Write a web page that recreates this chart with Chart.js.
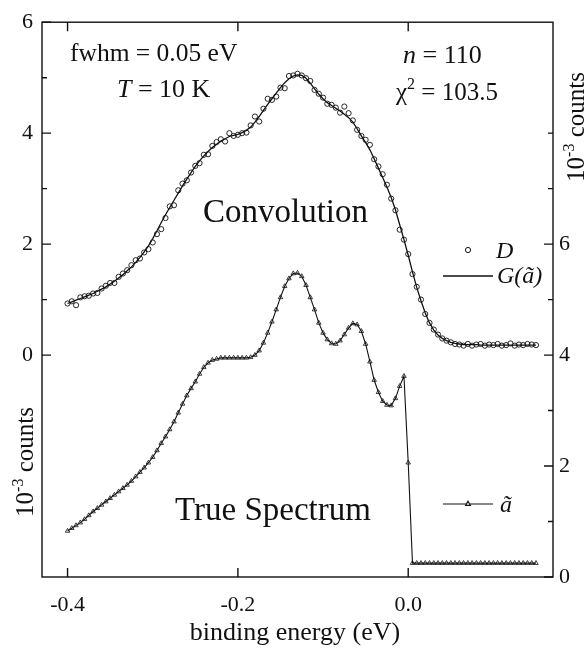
<!DOCTYPE html>
<html>
<head>
<meta charset="utf-8">
<script src="https://cdn.jsdelivr.net/npm/chart.js@4.4.1/dist/chart.umd.min.js"></script>
<style>
  html, body { margin: 0; padding: 0; background: #fff; }
</style>
</head>
<body>
<canvas id="chart" width="587" height="652"></canvas>
<script>
// binding energy (eV), one point every 5 meV
const energy = [
  -0.400, -0.395, -0.390, -0.385, -0.380, -0.375, -0.370, -0.365, -0.360, -0.355,
  -0.350, -0.345, -0.340, -0.335, -0.330, -0.325, -0.320, -0.315, -0.310, -0.305,
  -0.300, -0.295, -0.290, -0.285, -0.280, -0.275, -0.270, -0.265, -0.260, -0.255,
  -0.250, -0.245, -0.240, -0.235, -0.230, -0.225, -0.220, -0.215, -0.210, -0.205,
  -0.200, -0.195, -0.190, -0.185, -0.180, -0.175, -0.170, -0.165, -0.160, -0.155,
  -0.150, -0.145, -0.140, -0.135, -0.130, -0.125, -0.120, -0.115, -0.110, -0.105,
  -0.100, -0.095, -0.090, -0.085, -0.080, -0.075, -0.070, -0.065, -0.060, -0.055,
  -0.050, -0.045, -0.040, -0.035, -0.030, -0.025, -0.020, -0.015, -0.010, -0.005,
   0.000,  0.005,  0.010,  0.015,  0.020,  0.025,  0.030,  0.035,  0.040,  0.045,
   0.050,  0.055,  0.060,  0.065,  0.070,  0.075,  0.080,  0.085,  0.090,  0.095,
   0.100,  0.105,  0.110,  0.115,  0.120,  0.125,  0.130,  0.135,  0.140,  0.145,
   0.150
];

// measured data D (left axis, 10^-3 counts)
const measuredD = [
  0.93, 0.97, 0.90, 1.04, 1.06, 1.07, 1.11, 1.12, 1.20, 1.25,
  1.30, 1.30, 1.41, 1.47, 1.53, 1.62, 1.71, 1.74, 1.85, 1.91,
  2.03, 2.18, 2.27, 2.47, 2.68, 2.70, 2.97, 3.09, 3.15, 3.29,
  3.41, 3.46, 3.61, 3.62, 3.77, 3.84, 3.89, 3.85, 4.00, 3.95,
  3.97, 4.00, 4.01, 4.14, 4.30, 4.21, 4.44, 4.62, 4.60, 4.66,
  4.82, 4.81, 5.03, 5.04, 5.07, 5.04, 4.99, 4.94, 4.78, 4.71,
  4.64, 4.53, 4.51, 4.46, 4.37, 4.48, 4.36, 4.23, 4.06, 3.95,
  3.88, 3.79, 3.53, 3.40, 3.26, 3.07, 2.82, 2.61, 2.26, 2.08,
  1.82, 1.46, 1.23, 1.00, 0.74, 0.58, 0.46, 0.37, 0.30, 0.26,
  0.23, 0.20, 0.19, 0.17, 0.20, 0.17, 0.19, 0.20, 0.17, 0.19,
  0.18, 0.20, 0.17, 0.18, 0.21, 0.17, 0.19, 0.18, 0.20, 0.19,
  0.18
];

// convolution fit G(a~) (left axis)
const fitG = [
  0.93, 0.96, 0.99, 1.02, 1.05, 1.08, 1.11, 1.15, 1.19, 1.23,
  1.28, 1.33, 1.39, 1.45, 1.52, 1.59, 1.67, 1.76, 1.86, 1.97,
  2.10, 2.24, 2.39, 2.53, 2.66, 2.79, 2.92, 3.05, 3.17, 3.29,
  3.40, 3.50, 3.59, 3.67, 3.74, 3.80, 3.86, 3.90, 3.94, 3.96,
  3.98, 4.01, 4.05, 4.11, 4.20, 4.30, 4.41, 4.52, 4.62, 4.72,
  4.82, 4.91, 4.98, 5.03, 5.05, 5.04, 4.99, 4.90, 4.80, 4.70,
  4.62, 4.55, 4.50, 4.45, 4.40, 4.34, 4.28, 4.20, 4.08, 3.95,
  3.83, 3.70, 3.54, 3.37, 3.20, 3.03, 2.84, 2.62, 2.35, 2.08,
  1.80, 1.50, 1.22, 0.98, 0.76, 0.58, 0.45, 0.36, 0.30, 0.26,
  0.23, 0.21, 0.20, 0.19, 0.19, 0.19, 0.19, 0.18, 0.18, 0.18,
  0.18, 0.18, 0.18, 0.18, 0.18, 0.18, 0.18, 0.18, 0.18, 0.18,
  0.18
];

// true spectrum a~ (right axis)
const trueA = [
  0.83, 0.88, 0.93, 0.98, 1.04, 1.11, 1.18, 1.24, 1.30, 1.36,
  1.42, 1.48, 1.54, 1.60, 1.66, 1.73, 1.81, 1.89, 1.97, 2.06,
  2.16, 2.28, 2.41, 2.53, 2.66, 2.80, 2.96, 3.12, 3.27, 3.40,
  3.52, 3.66, 3.78, 3.86, 3.91, 3.93, 3.95, 3.95, 3.95, 3.95,
  3.95, 3.95, 3.95, 3.96, 4.00, 4.08, 4.22, 4.40, 4.60, 4.82,
  5.04, 5.24, 5.38, 5.47, 5.48, 5.42, 5.26, 5.04, 4.82, 4.58,
  4.40, 4.28, 4.21, 4.20, 4.26, 4.37, 4.49, 4.57, 4.55, 4.43,
  4.20, 3.88, 3.55, 3.33, 3.17, 3.10, 3.09, 3.22, 3.44, 3.62,
  2.06, 0.25, 0.25, 0.25, 0.25, 0.25, 0.25, 0.25, 0.25, 0.25,
  0.25, 0.25, 0.25, 0.25, 0.25, 0.25, 0.25, 0.25, 0.25, 0.25,
  0.25, 0.25, 0.25, 0.25, 0.25, 0.25, 0.25, 0.25, 0.25, 0.25,
  0.25
];

// tick values
const xTicks = [-0.4, -0.2, 0.0];
const leftLabels = [0, 2, 4, 6];
const leftMinor = [1, 3, 5];
const rightLabels = [0, 2, 4, 6];
const rightMinor = [1, 3, 5, 7, 8];

const INK = '#111';
const SERIF = '"Liberation Serif", "Times New Roman", serif';

const pts = ys => energy.map((x, i) => ({ x: x, y: ys[i] }));

// draw a row of text pieces (normal / italic / superscript) from a baseline
function drawRuns(ctx, x, y, parts) {
  parts.forEach(p => {
    ctx.font = (p.i ? 'italic ' : '') + p.s + 'px ' + SERIF;
    ctx.fillText(p.t, x, y + (p.dy || 0));
    x += ctx.measureText(p.t).width;
  });
}
function runsWidth(ctx, parts) {
  let w = 0;
  parts.forEach(p => {
    ctx.font = (p.i ? 'italic ' : '') + p.s + 'px ' + SERIF;
    w += ctx.measureText(p.t).width;
  });
  return w;
}

// frame and inward ticks
const framePlugin = {
  id: 'frame',
  beforeDatasetsDraw(chart) {
    const { ctx, chartArea: a, scales } = chart;
    ctx.save();
    ctx.strokeStyle = INK;
    ctx.lineWidth = 1.4;
    ctx.strokeRect(a.left, a.top, a.right - a.left, a.bottom - a.top);
    ctx.beginPath();
    xTicks.forEach(v => {
      const px = scales.x.getPixelForValue(v);
      ctx.moveTo(px, a.bottom); ctx.lineTo(px, a.bottom - 9);
      ctx.moveTo(px, a.top); ctx.lineTo(px, a.top + 9);
    });
    leftLabels.forEach(v => {
      const py = scales.y.getPixelForValue(v);
      ctx.moveTo(a.left, py); ctx.lineTo(a.left + 9, py);
    });
    leftMinor.forEach(v => {
      const py = scales.y.getPixelForValue(v);
      ctx.moveTo(a.left, py); ctx.lineTo(a.left + 5, py);
    });
    rightLabels.forEach(v => {
      const py = scales.y2.getPixelForValue(v);
      ctx.moveTo(a.right, py); ctx.lineTo(a.right - 9, py);
    });
    rightMinor.forEach(v => {
      const py = scales.y2.getPixelForValue(v);
      ctx.moveTo(a.right, py); ctx.lineTo(a.right - 5, py);
    });
    ctx.stroke();
    ctx.restore();
  }
};

// annotations, axis titles and the small legends
const textPlugin = {
  id: 'texts',
  afterDraw(chart) {
    const ctx = chart.ctx;
    ctx.save();
    ctx.fillStyle = INK;
    ctx.textBaseline = 'alphabetic';
    ctx.textAlign = 'left';

    drawRuns(ctx, 70, 61, [{ t: 'fwhm = 0.05 eV', s: 25.5 }]);
    drawRuns(ctx, 117, 97, [{ t: 'T', s: 26, i: true }, { t: ' = 10 K', s: 26 }]);
    drawRuns(ctx, 403, 63, [{ t: 'n', s: 26, i: true }, { t: ' = 110', s: 26 }]);
    drawRuns(ctx, 396, 100, [{ t: 'χ', s: 25 }, { t: '2', s: 16, dy: -11 }, { t: ' = 103.5', s: 25 }]);
    drawRuns(ctx, 203, 222, [{ t: 'Convolution', s: 33 }]);
    drawRuns(ctx, 175, 520, [{ t: 'True Spectrum', s: 33 }]);

    // x title
    const xt = [{ t: 'binding energy (eV)', s: 26 }];
    drawRuns(ctx, 295 - runsWidth(ctx, xt) / 2, 640, xt);

    // rotated y titles
    const yt = [{ t: '10', s: 25 }, { t: '-3', s: 16, dy: -10 }, { t: ' counts', s: 25 }];
    const yw = runsWidth(ctx, yt);
    [[33, 462], [584, 127]].forEach(([bx, cy]) => {
      ctx.save();
      ctx.translate(bx, cy);
      ctx.rotate(-Math.PI / 2);
      drawRuns(ctx, -yw / 2, 0, yt);
      ctx.restore();
    });

    // legend samples
    ctx.strokeStyle = INK;
    ctx.fillStyle = '#fff';
    Chart.helpers.drawPoint(ctx, { pointStyle: 'circle', radius: 2.6, borderWidth: 0.9 }, 468, 250);
    ctx.fillStyle = INK;
    drawRuns(ctx, 496, 258, [{ t: 'D', s: 24, i: true }]);
    ctx.lineWidth = 1.3;
    ctx.beginPath(); ctx.moveTo(443, 276); ctx.lineTo(493, 276); ctx.stroke();
    drawRuns(ctx, 497, 283, [{ t: 'G(ã)', s: 24, i: true }]);
    ctx.lineWidth = 1.1;
    ctx.beginPath(); ctx.moveTo(443, 504); ctx.lineTo(493, 504); ctx.stroke();
    ctx.fillStyle = '#fff';
    Chart.helpers.drawPoint(ctx, { pointStyle: 'triangle', radius: 2.8, borderWidth: 0.9 }, 468, 504);
    ctx.fillStyle = INK;
    drawRuns(ctx, 500, 512, [{ t: 'ã', s: 24, i: true }]);
    ctx.restore();
  }
};

const tickFont = { family: SERIF, size: 22 };

const ctx = document.getElementById('chart').getContext('2d');
new Chart(ctx, {
  type: 'scatter',
  data: {
    datasets: [
      {
        label: 'D',
        data: pts(measuredD),
        yAxisID: 'y',
        showLine: false,
        pointStyle: 'circle',
        pointRadius: 2.6,
        pointBorderWidth: 0.9,
        pointBorderColor: INK,
        pointBackgroundColor: 'rgba(255,255,255,0)'
      },
      {
        label: 'G(ã)',
        data: pts(fitG),
        yAxisID: 'y',
        showLine: true,
        borderColor: INK,
        borderWidth: 1.3,
        pointRadius: 0,
        tension: 0
      },
      {
        label: 'ã',
        data: pts(trueA),
        yAxisID: 'y2',
        showLine: true,
        borderColor: INK,
        borderWidth: 1.1,
        tension: 0,
        pointStyle: 'triangle',
        pointRadius: 2.6,
        pointBorderWidth: 0.8,
        pointBorderColor: INK,
        pointBackgroundColor: 'rgba(255,255,255,0)'
      }
    ]
  },
  options: {
    responsive: false,
    animation: false,
    layout: { padding: { top: 10 } },
    plugins: {
      legend: { display: false },
      tooltip: { enabled: false }
    },
    scales: {
      x: {
        type: 'linear',
        position: 'bottom',
        min: -0.43,
        max: 0.17,
        afterBuildTicks: s => { s.ticks = xTicks.map(v => ({ value: v })); },
        afterFit: s => { s.height = 75; },
        grid: { display: false, drawTicks: false },
        border: { display: false },
        ticks: {
          font: tickFont,
          color: INK,
          padding: 15,
          maxRotation: 0,
          autoSkip: false,
          callback: v => v.toFixed(1)
        }
      },
      y: {
        position: 'left',
        min: -4,
        max: 6,
        afterFit: s => { s.width = 42; },
        grid: { display: false, drawTicks: false },
        border: { display: false },
        ticks: {
          stepSize: 1,
          autoSkip: false,
          font: tickFont,
          color: INK,
          padding: 9,
          callback: v => leftLabels.includes(v) ? String(v) : ''
        }
      },
      y2: {
        position: 'right',
        min: 0,
        max: 10,
        afterFit: s => { s.width = 34; },
        grid: { display: false, drawTicks: false },
        border: { display: false },
        ticks: {
          stepSize: 1,
          autoSkip: false,
          font: tickFont,
          color: INK,
          padding: 6,
          callback: v => rightLabels.includes(v) ? String(v) : ''
        }
      }
    }
  },
  plugins: [framePlugin, textPlugin]
});
</script>
</body>
</html>
